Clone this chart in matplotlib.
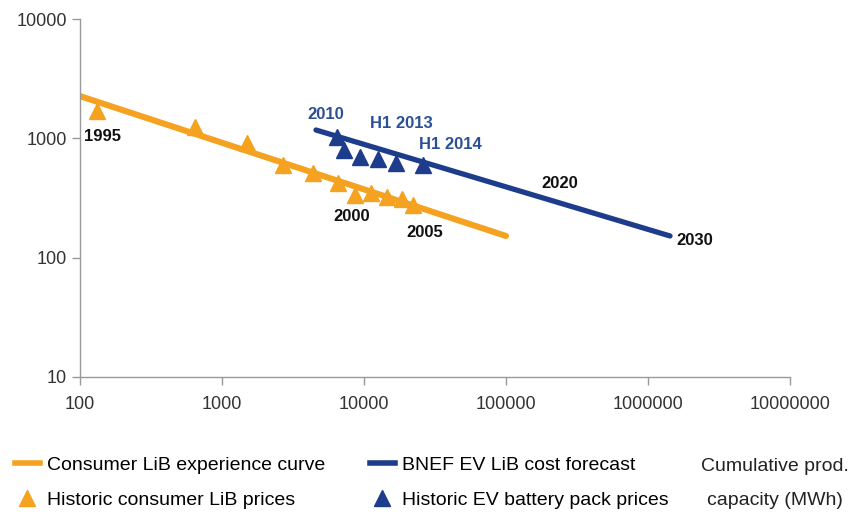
import matplotlib
matplotlib.use("Agg")
import matplotlib.pyplot as plt
from matplotlib.lines import Line2D

# Consumer LiB experience curve (end points) and historic prices
consumer_curve_x = [100, 100000]
consumer_curve_y = [2260, 152]
consumer_hist_x = [132, 646, 1500, 2690, 4370, 6560, 8650, 11200, 14500, 18500, 22100]
consumer_hist_y = [1700, 1245, 912, 597, 512, 422, 335, 347, 322, 309, 275]

# BNEF EV LiB cost forecast and historic EV pack prices
ev_curve_x = [4590, 1430000]
ev_curve_y = [1175, 152]
ev_hist_x = [6460, 7230, 9380, 12600, 16800, 26000]
ev_hist_y = [1026, 798, 697, 670, 621, 597]

# year labels: (text, x, y, colour key)
year_labels = [
    ("1995", 143, 1045, "k"),
    ("2000", 8230, 223, "k"),
    ("2005", 26900, 161, "k"),
    ("2020", 240000, 422, "k"),
    ("2030", 2140000, 138, "k"),
    ("2010", 5400, 1600, "b"),
    ("H1 2013", 18200, 1320, "b"),
    ("H1 2014", 40800, 896, "b"),
]

x_ticks = [100, 1000, 10000, 100000, 1000000, 10000000]
y_ticks = [10, 100, 1000, 10000]

ORANGE = "#F4A21F"
BLUE = "#1D3C8C"
BLUE_TXT = "#2B4F96"

plt.rcParams["font.family"] = ["Liberation Sans", "DejaVu Sans"]

fig = plt.figure(figsize=(8.63, 5.15), dpi=100)
ax = fig.add_axes([0.0927, 0.268, 0.8227, 0.695])

ax.plot(consumer_curve_x, consumer_curve_y, color=ORANGE, lw=4.4, solid_capstyle="round", zorder=2)
ax.plot(ev_curve_x, ev_curve_y, color=BLUE, lw=3.8, solid_capstyle="round", zorder=2)
ax.plot(consumer_hist_x, consumer_hist_y, ls="none", marker="^", ms=11, color=ORANGE, zorder=3)
ax.plot(ev_hist_x, ev_hist_y, ls="none", marker="^", ms=11, color=BLUE, zorder=3)

for txt, x, y, c in year_labels:
    ax.text(x, y, txt, ha="center", va="center", fontsize=12, fontweight="bold",
            color=("#111111" if c == "k" else BLUE_TXT))

ax.set_xscale("log")
ax.set_yscale("log")
ax.set_xlim(100, 10000000)
ax.set_ylim(10, 10000)
ax.set_xticks(x_ticks)
ax.set_xticklabels([str(v) for v in x_ticks])
ax.set_yticks(y_ticks)
ax.set_yticklabels([str(v) for v in y_ticks])
ax.minorticks_off()
ax.tick_params(axis="both", labelsize=13, colors="#999999", labelcolor="#333333",
               length=6, width=1)
ax.tick_params(axis="x", pad=8)
for side in ["top", "right"]:
    ax.spines[side].set_visible(False)
for side in ["left", "bottom"]:
    ax.spines[side].set_color("#999999")
    ax.spines[side].set_linewidth(1)

handles = [
    Line2D([], [], color=ORANGE, lw=4.0),
    Line2D([], [], ls="none", marker="^", ms=12, color=ORANGE),
    Line2D([], [], color=BLUE, lw=4.0),
    Line2D([], [], ls="none", marker="^", ms=12, color=BLUE),
]
labels = ["Consumer LiB experience curve", "Historic consumer LiB prices",
          "BNEF EV LiB cost forecast", "Historic EV battery pack prices"]
fig.legend(handles, labels, ncol=2, loc="lower left", bbox_to_anchor=(0.008, -0.004),
           frameon=False, fontsize=14, handlelength=1.29, handletextpad=0.36,
           columnspacing=2.3, labelspacing=0.9, borderaxespad=0.0)

fig.text(0.898, 0.062, "Cumulative prod.\ncapacity (MWh)", ha="center", va="center",
         fontsize=14, color="#222222", linespacing=2.3)

fig.savefig("out.png", dpi=100)
